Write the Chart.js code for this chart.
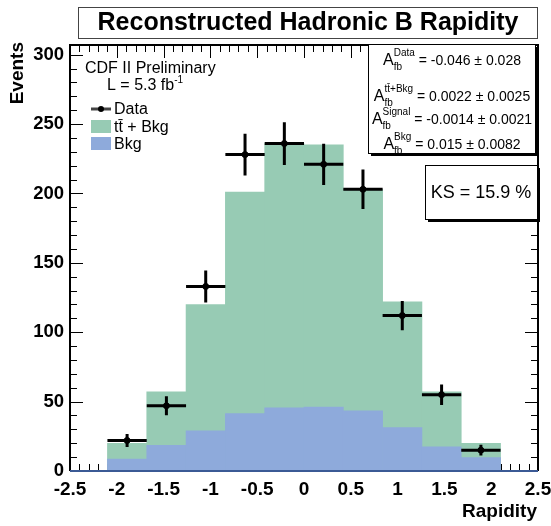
<!DOCTYPE html>
<html>
<head>
<meta charset="utf-8">
<script src="https://cdn.jsdelivr.net/npm/chart.js@4.4.1/dist/chart.umd.min.js"></script>
<style>
  html, body { margin: 0; padding: 0; background: #fff; }
  #wrap { width: 551px; height: 526px; }
</style>
</head>
<body>
<div id="wrap"><canvas id="rapidityChart" width="551" height="526"></canvas></div>
<script>
// bins of reconstructed hadronic B rapidity (centres, half width 0.21)
const binCenters = [-1.89, -1.47, -1.05, -0.63, -0.21, 0.21, 0.63, 1.05, 1.47, 1.89];
const binHalfWidth = 0.21;
const ttbarPlusBkg = [20, 57, 120, 201, 236, 235, 203, 122, 57, 20];
const bkgOnly = [8.6, 18.5, 29, 41.4, 45.5, 46, 43.3, 31.3, 17.5, 9.6];
const dataCounts = [22, 47, 133, 228, 236, 221, 203, 112, 55, 15];
const dataErrors = [4.7, 6.9, 11.5, 15.1, 15.4, 14.9, 14.2, 10.6, 7.4, 3.9];
const xTicks = [-2.5, -2, -1.5, -1, -0.5, 0, 0.5, 1, 1.5, 2, 2.5];
const yTicks = [0, 50, 100, 150, 200, 250, 300];
const statLines = [
    { sup: "Data", text: "= -0.046 \u00b1 0.028" },
    { sup: "tt\u0304+Bkg", text: "= 0.0022 \u00b1 0.0025" },
    { sup: "Signal", text: "= -0.0014 \u00b1 0.0021" },
    { sup: "Bkg", text: "= 0.015 \u00b1 0.0082" }
];

const GREEN = "#97cbb4";
const BLUE = "#8eaadb";
const FONT = "'Liberation Sans', Arial, Helvetica, sans-serif";

const toPoints = (vals) => binCenters.map((x, i) => ({ x: x, y: vals[i] }));

// ROOT style frame, inner ticks, error bars and the text boxes
const rootStyle = {
    id: "rootStyle",
    beforeDatasetsDraw(chart) {
        const { ctx, chartArea: a, scales: { x, y } } = chart;
        ctx.save();
        ctx.strokeStyle = "#000";
        ctx.lineWidth = 1;
        ctx.beginPath();
        for (let i = -25; i <= 25; i++) {
            const px = Math.round(x.getPixelForValue(i / 10)) + 0.5;
            const len = i % 5 === 0 ? 13 : 7;
            ctx.moveTo(px, a.bottom); ctx.lineTo(px, a.bottom - len);
            ctx.moveTo(px, a.top); ctx.lineTo(px, a.top + len);
        }
        for (let i = 0; i <= 30; i++) {
            const py = Math.round(y.getPixelForValue(i * 10)) + 0.5;
            const len = i % 5 === 0 ? 13 : 7;
            ctx.moveTo(a.left, py); ctx.lineTo(a.left + len, py);
            ctx.moveTo(a.right, py); ctx.lineTo(a.right - len, py);
        }
        ctx.stroke();
        ctx.restore();
    },
    afterDatasetsDraw(chart) {
        const { ctx, chartArea: a, scales: { x, y } } = chart;
        ctx.save();

        // error bars on data
        ctx.strokeStyle = "#000";
        ctx.lineWidth = 3;
        ctx.beginPath();
        binCenters.forEach((c, i) => {
            const px = x.getPixelForValue(c);
            const py = y.getPixelForValue(dataCounts[i]);
            ctx.moveTo(x.getPixelForValue(c - binHalfWidth), py);
            ctx.lineTo(x.getPixelForValue(c + binHalfWidth), py);
            ctx.moveTo(px, y.getPixelForValue(dataCounts[i] - dataErrors[i]));
            ctx.lineTo(px, y.getPixelForValue(dataCounts[i] + dataErrors[i]));
        });
        ctx.stroke();

        // frame
        ctx.lineWidth = 2;
        ctx.beginPath();
        ctx.moveTo(a.left, a.bottom); ctx.lineTo(a.left, a.top);
        ctx.lineTo(a.right, a.top); ctx.lineTo(a.right, a.bottom);
        ctx.stroke();
        ctx.strokeStyle = "#3b5a95";
        ctx.beginPath();
        ctx.moveTo(a.left, a.bottom); ctx.lineTo(a.right, a.bottom);
        ctx.stroke();

        // title box
        ctx.fillStyle = "#fff";
        ctx.fillRect(78, 7, 459, 31);
        ctx.strokeStyle = "#444";
        ctx.lineWidth = 1;
        ctx.strokeRect(78.5, 7.5, 459, 31);
        ctx.fillStyle = "#000";
        ctx.font = "bold 25px " + FONT;
        ctx.textAlign = "center";
        ctx.textBaseline = "middle";
        ctx.fillText("Reconstructed Hadronic B Rapidity", 308, 23);

        // axis titles
        ctx.font = "bold 19px " + FONT;
        ctx.textAlign = "right";
        ctx.fillText("Rapidity", 537, 512);
        ctx.save();
        ctx.translate(18, 42);
        ctx.rotate(-Math.PI / 2);
        ctx.fillText("Events", 0, 0);
        ctx.restore();

        // CDF label and legend
        ctx.textAlign = "left";
        ctx.font = "16px " + FONT;
        ctx.fillText("CDF II Preliminary", 85, 69);
        ctx.fillText("L = 5.3 fb", 107, 86);
        const lw = ctx.measureText("L = 5.3 fb").width;
        ctx.font = "10px " + FONT;
        ctx.fillText("-1", 107 + lw, 80);

        ctx.font = "16px " + FONT;
        ctx.lineWidth = 3;
        ctx.beginPath();
        ctx.moveTo(91, 109); ctx.lineTo(111, 109);
        ctx.stroke();
        ctx.beginPath();
        ctx.arc(101, 109, 3, 0, Math.PI * 2);
        ctx.fill();
        ctx.fillText("Data", 114, 110);
        ctx.fillStyle = GREEN;
        ctx.fillRect(91, 120, 20, 13);
        ctx.fillStyle = BLUE;
        ctx.fillRect(91, 137, 20, 13);
        ctx.fillStyle = "#000";
        ctx.fillText("t\u0074\u0304 + Bkg", 114, 128);
        ctx.fillText("Bkg", 114, 145);

        // A_fb box
        ctx.fillRect(371, 47, 167, 109);
        ctx.fillStyle = "#fff";
        ctx.fillRect(368, 44, 167, 109);
        ctx.strokeStyle = "#000";
        ctx.lineWidth = 1;
        ctx.strokeRect(368.5, 44.5, 167, 109);
        const rows = [61, 97, 120, 145];
        statLines.forEach((s, i) => {
            ctx.font = "16px " + FONT;
            const wA = ctx.measureText("A").width;
            ctx.font = "14px " + FONT;
            const wT = ctx.measureText(" " + s.text).width;
            ctx.font = "10px " + FONT;
            const wS = Math.max(ctx.measureText(s.sup).width, ctx.measureText("fb").width);
            const total = wA + wS + wT;
            let cx = 452 - total / 2;
            ctx.fillStyle = "#000";
            ctx.font = "16px " + FONT;
            ctx.fillText("A", cx, rows[i]);
            ctx.font = "10px " + FONT;
            ctx.fillText(s.sup, cx + wA, rows[i] - 8);
            ctx.fillText("fb", cx + wA, rows[i] + 6);
            ctx.font = "14px " + FONT;
            ctx.fillText(" " + s.text, cx + wA + wS, rows[i]);
        });

        // KS box
        ctx.fillRect(428, 168, 112, 54);
        ctx.fillStyle = "#fff";
        ctx.fillRect(425, 165, 112, 54);
        ctx.strokeRect(425.5, 165.5, 112, 54);
        ctx.fillStyle = "#000";
        ctx.font = "18px " + FONT;
        ctx.textAlign = "center";
        ctx.fillText("KS = 15.9 %", 481, 193);

        ctx.restore();
    }
};

new Chart(document.getElementById("rapidityChart"), {
    type: "bar",
    data: {
        datasets: [
            {
                type: "scatter",
                label: "Data",
                data: toPoints(dataCounts),
                backgroundColor: "#000",
                borderColor: "#000",
                pointRadius: 3,
                order: 0
            },
            {
                label: "Bkg",
                data: toPoints(bkgOnly),
                backgroundColor: BLUE,
                grouped: false,
                barPercentage: 1,
                categoryPercentage: 1,
                order: 1
            },
            {
                label: "tt\u0304 + Bkg",
                data: toPoints(ttbarPlusBkg),
                backgroundColor: GREEN,
                grouped: false,
                barPercentage: 1,
                categoryPercentage: 1,
                order: 2
            }
        ]
    },
    options: {
        responsive: false,
        animation: false,
        events: [],
        layout: { padding: { top: 45, right: 13, bottom: 0, left: 0 } },
        plugins: { legend: { display: false }, tooltip: { enabled: false } },
        scales: {
            x: {
                type: "linear",
                min: -2.5,
                max: 2.5,
                offset: false,
                grid: { display: false, drawTicks: false },
                border: { display: false },
                afterBuildTicks: (s) => { s.ticks = xTicks.map(v => ({ value: v })); },
                afterFit: (s) => { s.height = 55; s.paddingLeft = 0; s.paddingRight = 0; },
                ticks: {
                    color: "#000",
                    padding: 7,
                    maxRotation: 0,
                    font: { family: FONT, size: 19, weight: "bold" },
                    callback: (v) => String(v)
                }
            },
            y: {
                min: 0,
                max: 307,
                grid: { display: false, drawTicks: false },
                border: { display: false },
                afterBuildTicks: (s) => { s.ticks = yTicks.map(v => ({ value: v })); },
                afterFit: (s) => { s.width = 70; s.paddingTop = 0; s.paddingBottom = 0; },
                ticks: {
                    color: "#000",
                    padding: 6,
                    font: { family: FONT, size: 18.5, weight: "bold" },
                    callback: (v) => String(v)
                }
            }
        }
    },
    plugins: [rootStyle]
});
</script>
</body>
</html>
